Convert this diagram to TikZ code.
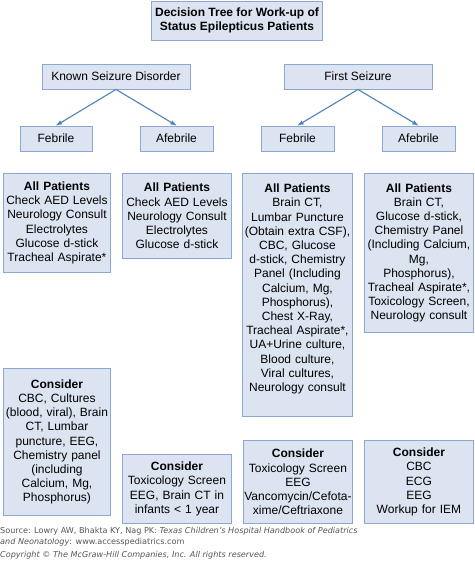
\documentclass[tikz,border=0pt]{standalone}
\usepackage{fontspec}
\setmainfont{Liberation Sans}
\newfontfamily\sourcefont{DejaVu Sans}
\usepackage{tikz}
\usetikzlibrary{positioning}

\definecolor{boxfill}{HTML}{DCE3F1}
\definecolor{boxedge}{HTML}{8DA8D0}
\definecolor{linkblue}{HTML}{4F81BD}
\definecolor{sourcegray}{HTML}{555555}

\begin{document}
\begin{tikzpicture}[x=1pt, y=-1pt,
    box/.style={draw=boxedge, fill=boxfill, line width=0.9pt,
        font=\fontsize{12}{14.2}\selectfont, minimum height=25pt},
    panel/.style={box, anchor=north west, align=center, inner xsep=0pt, inner ysep=2pt},
    link/.style={-latex, draw=linkblue, line width=1.1pt}]
    \useasboundingbox (0,0) rectangle (474,567);

    % top of the tree
    \node[box, align=center, minimum width=168pt, minimum height=39pt,
        font=\fontsize{12}{13.5}\selectfont\bfseries] (title) at (237,20.5)
        {Decision Tree for Work-up of\\Status Epilepticus Patients};

    \node[box, minimum width=148pt] (known) at (116,76.5) {Known Seizure Disorder};
    \node[box, minimum width=148pt] (first) at (358,76.5) {First Seizure};

    \node[box, minimum width=72pt] (febKnown) at (56,138.5) {Febrile};
    \node[box, minimum width=73pt] (afebKnown) at (176.5,138.5) {Afebrile};
    \node[box, minimum width=73pt] (febFirst) at (297.5,138.5) {Febrile};
    \node[box, minimum width=73pt] (afebFirst) at (418.5,138.5) {Afebrile};

    \draw[link] (known.south) -- (febKnown.north);
    \draw[link] (known.south) -- (afebKnown.north);
    \draw[link] (first.south) -- (febFirst.north);
    \draw[link] (first.south) -- (afebFirst.north);

    % all patients
    \node[panel, text width=107pt, minimum height=99pt] (allFebKnown) at (3,173)
        {\textbf{All Patients}\\Check AED Levels\\Neurology Consult\\Electrolytes\\Glucose d-stick\\Tracheal Aspirate*};
    \node[panel, text width=109pt, minimum height=85pt] (allAfebKnown) at (122,173)
        {\textbf{All Patients}\\Check AED Levels\\Neurology Consult\\Electrolytes\\Glucose d-stick};
    \node[panel, text width=110pt, minimum height=243pt] (allFebFirst) at (242,173)
        {\textbf{All Patients}\\Brain CT,\\Lumbar Puncture\\(Obtain extra CSF),\\CBC, Glucose\\d-stick, Chemistry\\Panel (Including\\Calcium, Mg,\\Phosphorus),\\Chest X-Ray,\\Tracheal Aspirate*,\\UA+Urine culture,\\Blood culture,\\Viral cultures,\\Neurology consult\\~};
    \node[panel, text width=109pt, minimum height=159pt] (allAfebFirst) at (364,173)
        {\textbf{All Patients}\\Brain CT,\\Glucose d-stick,\\Chemistry Panel\\(Including Calcium,\\Mg,\\Phosphorus),\\Tracheal Aspirate*,\\Toxicology Screen,\\Neurology consult};

    % consider
    \node[panel, text width=107pt, minimum height=147pt] (conFebKnown) at (3,368)
        {\textbf{Consider}\\CBC, Cultures\\(blood, viral), Brain\\CT, Lumbar\\puncture, EEG,\\Chemistry panel\\(including\\Calcium, Mg,\\Phosphorus)};
    \node[panel, text width=109pt, minimum height=69pt] (conAfebKnown) at (122,454)
        {\textbf{Consider}\\Toxicology Screen\\EEG, Brain CT in\\infants < 1 year};
    \node[panel, text width=109pt, minimum height=83pt] (conFebFirst) at (243,440)
        {\textbf{Consider}\\Toxicology Screen\\EEG\\Vancomycin/Cefota-\\xime/Ceftriaxone};
    \node[panel, text width=109pt, minimum height=83pt] (conAfebFirst) at (364,440)
        {\textbf{Consider}\\CBC\\ECG\\EEG\\Workup for IEM};

    % source line
    \node[anchor=north west, inner sep=0pt, align=left, text=sourcegray,
        font=\sourcefont\fontsize{8.1}{11}\selectfont] (source) at (0,527)
        {Source: Lowry AW, Bhakta KY, Nag PK: \textit{Texas Children’s Hospital Handbook of Pediatrics}\\
         \textit{and Neonatology}: www.accesspediatrics.com\\[2pt]
         \textit{Copyright © The McGraw-Hill Companies, Inc. All rights reserved.}};
\end{tikzpicture}
\end{document}
